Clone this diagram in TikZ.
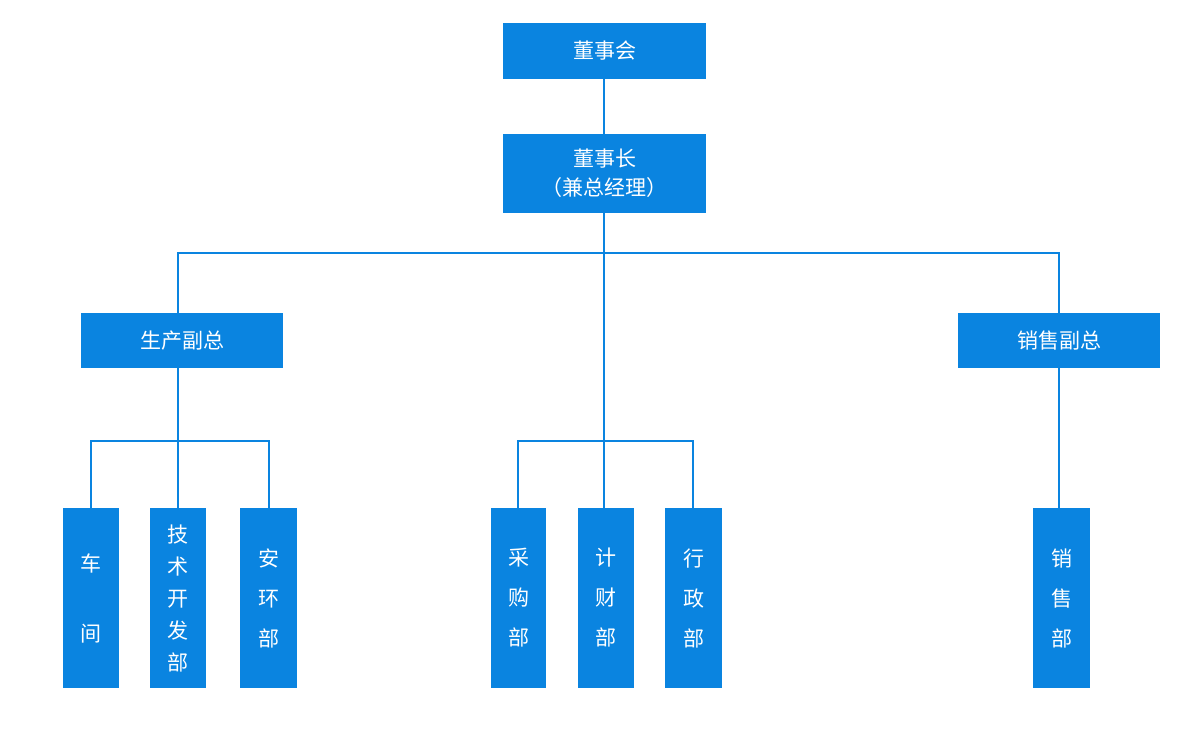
\documentclass[tikz,border=0pt]{standalone}
\usepackage{fontspec}
\setmainfont{Noto Sans CJK SC}
\definecolor{bl}{HTML}{0A84E0}
\begin{document}
\begin{tikzpicture}[x=1pt,y=-1pt,
 box/.style={fill=bl,text=white,inner sep=0pt,align=center,font=\fontsize{21}{29}\selectfont},
 ln/.style={draw=bl,line width=1.5pt}]
\useasboundingbox (0,0) rectangle (1181,741);
\newcommand\bx[6]{\node[box,minimum width={#4-#2},minimum height={#5-#3}] (#1) at ({(#2+#4)/2},{(#3+#5)/2}) {#6};}
\bx{dsh}{503}{23}{706}{79}{董事会}
\bx{dsz}{503}{134}{706}{213}{董事长\\（兼总经理）}
\bx{sc}{81}{313}{283}{368}{生产副总}
\bx{xs}{958}{313}{1160}{368}{销售副总}
\node[box,minimum width=56,minimum height=180,font=\fontsize{21}{70}\selectfont] (cj) at (91,598) {车\\间};
\node[box,minimum width=56,minimum height=180,font=\fontsize{21}{32}\selectfont] (js) at (178,598) {技\\术\\开\\发\\部};
\node[box,minimum width=57,minimum height=180,font=\fontsize{21}{40}\selectfont] (ah) at (268.5,598) {安\\环\\部};
\node[box,minimum width=55,minimum height=180,font=\fontsize{21}{40}\selectfont] (cg) at (518.5,598) {采\\购\\部};
\node[box,minimum width=56,minimum height=180,font=\fontsize{21}{40}\selectfont] (jc) at (606,598) {计\\财\\部};
\node[box,minimum width=57,minimum height=180,font=\fontsize{21}{40}\selectfont] (xz) at (693.5,598) {行\\政\\部};
\node[box,minimum width=57,minimum height=180,font=\fontsize{21}{40}\selectfont] (xsb) at (1061.5,598) {销\\售\\部};
\coordinate (c) at (604,253);
\draw[ln] (604,79) -- (604,134);
\draw[ln] (604,213) -- (604,508);
\draw[ln] (178,313) -- (178,253) -- (1059,253) -- (1059,313);
\draw[ln] (178,368) -- (178,508);
\draw[ln] (91,508) -- (91,441) -- (269,441) -- (269,508);
\draw[ln] (518,508) -- (518,441) -- (693,441) -- (693,508);
\draw[ln] (1059,368) -- (1059,508);
\end{tikzpicture}
\end{document}
